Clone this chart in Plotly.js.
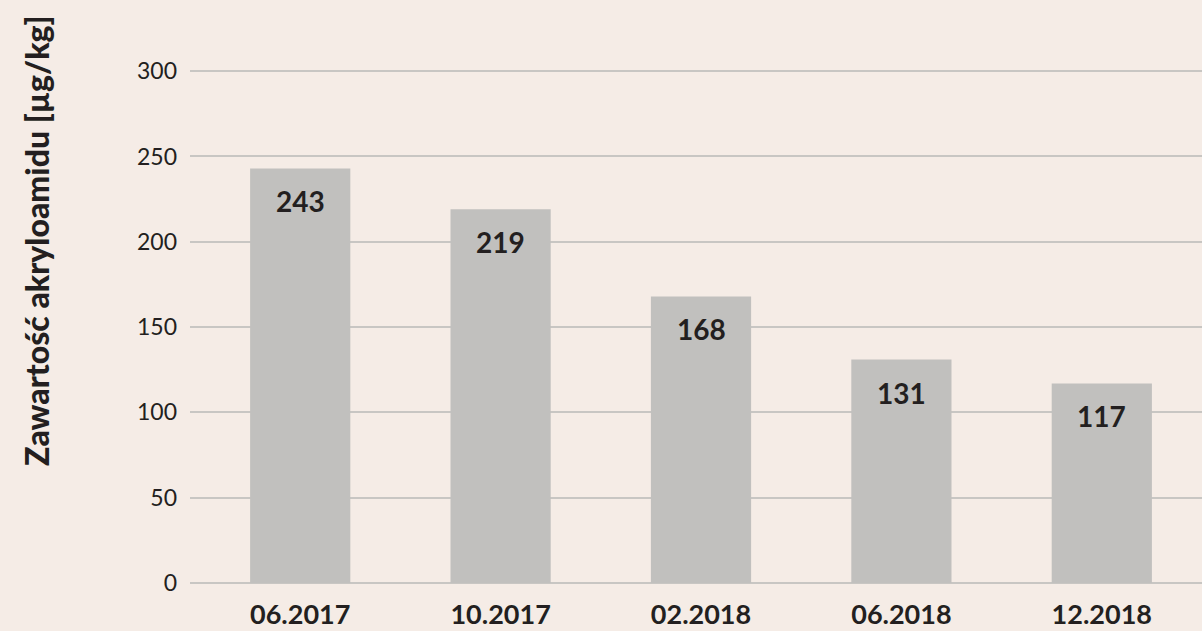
<!DOCTYPE html>
<html><head><meta charset="utf-8">
<script src="https://cdn.plot.ly/plotly-3.0.1.min.js"></script>
<style>html,body{margin:0;padding:0;background:#f5ece6;}</style>
</head><body>
<div id="chart" style="width:1202px;height:631px;"></div>
<script>
const categories = ["06.2017", "10.2017", "02.2018", "06.2018", "12.2018"];
const values = [243, 219, 168, 131, 117];
const yTicks = [0, 50, 100, 150, 200, 250, 300];
const yTitle = "Zawartość akryloamidu [µg/kg]";

const trace = {
  type: "bar",
  x: categories,
  y: values,
  width: 0.5,
  marker: {color: "#c1c0be"},
  hoverinfo: "none"
};

// value labels placed on the category axis by category index
const valueLabels = categories.map((c, i) => ({
  text: String(values[i]),
  x: i, y: values[i],
  xref: "x", yref: "y",
  xanchor: "center", yanchor: "top",
  yshift: -14,
  showarrow: false,
  font: {family: "Lato", size: 28, color: "#231f20", weight: "bold"}
}));

const layout = {
  width: 1202, height: 631,
  paper_bgcolor: "#f5ece6",
  plot_bgcolor: "#f5ece6",
  margin: {l: 190, r: 0, t: 20, b: 48},
  showlegend: false,
  font: {family: "Lato", color: "#231f20"},
  xaxis: {
    type: "category",
    range: [-0.55, 4.5],
    showgrid: false,
    zeroline: false,
    showline: false,
    ticks: "",
    ticklabelstandoff: 13,
    tickfont: {family: "Lato", size: 27, color: "#231f20", weight: "bold"}
  },
  yaxis: {
    range: [0, 330],
    tickvals: yTicks,
    ticktext: yTicks.map(String),
    showgrid: true,
    gridcolor: "#c8c6c3",
    gridwidth: 2,
    zeroline: true,
    zerolinecolor: "#c8c6c3",
    zerolinewidth: 2,
    showline: false,
    ticks: "",
    ticklabelstandoff: 12,
    tickfont: {family: "Lato", size: 23, color: "#231f20"}
  },
  annotations: valueLabels.concat([{
    text: yTitle,
    xref: "paper", yref: "paper",
    x: (36 - 190) / 1012, y: (583 - 241) / 563,
    xanchor: "center", yanchor: "middle",
    textangle: -90,
    showarrow: false,
    font: {family: "Lato", size: 32, color: "#231f20", weight: 900}
  }])
};

Plotly.newPlot("chart", [trace], layout, {displayModeBar: false, staticPlot: true});
</script>
</body></html>
